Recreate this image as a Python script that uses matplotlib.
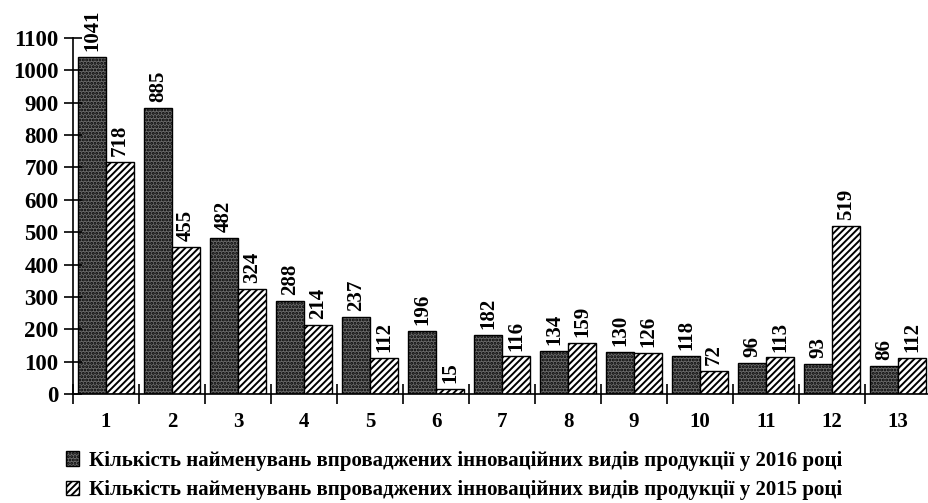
import numpy as np
import matplotlib
matplotlib.use("Agg")
import matplotlib.pyplot as plt
from matplotlib.patches import Patch

# data
categories = ["1", "2", "3", "4", "5", "6", "7", "8", "9", "10", "11", "12", "13"]
vals_2016 = [1041, 885, 482, 288, 237, 196, 182, 134, 130, 118, 96, 93, 86]
vals_2015 = [718, 455, 324, 214, 112, 15, 116, 159, 126, 72, 113, 519, 112]
label_2016 = "Кількість найменувань впроваджених інноваційних видів продукції у 2016 році"
label_2015 = "Кількість найменувань впроваджених інноваційних видів продукції у 2015 році"
yticks = list(range(0, 1101, 100))

plt.rcParams['font.family'] = ['Liberation Serif', 'DejaVu Serif']
plt.rcParams['font.weight'] = 'bold'
plt.rcParams['hatch.linewidth'] = 1.4

fig = plt.figure(figsize=(9.29, 5.03), dpi=100)
ax = fig.add_axes([0.0786, 0.2167, 0.9236, 0.7078])

x = np.arange(len(categories))
w = 0.42
dark = dict(facecolor='#6a6a6a', edgecolor='black', hatch='.....', linewidth=1.0)
striped = dict(facecolor='white', edgecolor='black', hatch='/////', linewidth=1.0)

b1 = ax.bar(x - w / 2, vals_2016, width=w, **dark)
b2 = ax.bar(x + w / 2, vals_2015, width=w, **striped)

for bars, vals in ((b1, vals_2016), (b2, vals_2015)):
    for rect, v in zip(bars, vals):
        ax.text(rect.get_x() + rect.get_width() / 2, v + 18, str(v),
                rotation=90, ha='center', va='bottom', fontsize=15,
                fontweight='bold')

ax.set_xlim(-0.5, len(categories) - 0.5)
ax.set_ylim(0, 1100)
ax.set_yticks(yticks)
ax.set_yticklabels([str(t) for t in yticks], fontsize=16.5, fontweight='bold')
ax.set_xticks(x)
ax.set_xticklabels(categories, fontsize=15, fontweight='bold')
ax.set_xticks(np.arange(-0.5, len(categories), 1.0), minor=True)
ax.tick_params(axis='x', which='major', length=0, pad=13)
ax.tick_params(axis='x', which='minor', direction='inout', length=14, width=1.2)
ax.tick_params(axis='y', direction='inout', length=13, width=1.2, pad=4)

for s in ('top', 'right'):
    ax.spines[s].set_visible(False)
ax.spines['left'].set_linewidth(1.2)
ax.spines['bottom'].set_linewidth(1.2)

handles = [Patch(**dark, label=label_2016), Patch(**striped, label=label_2015)]
fig.legend(handles=handles, loc='upper left', bbox_to_anchor=(0.062, 0.12),
           frameon=False, handlelength=0.65, handleheight=0.7,
           handletextpad=0.45, labelspacing=0.45, borderaxespad=0,
           prop={'weight': 'bold', 'size': 15})

fig.savefig("out.png", dpi=100)
